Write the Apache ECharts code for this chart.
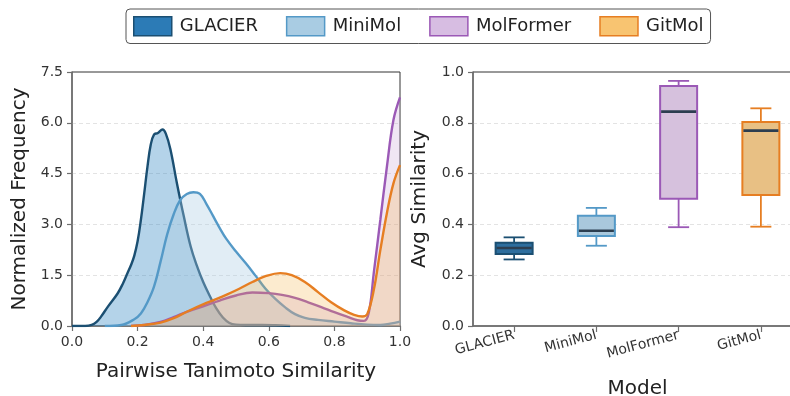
<!DOCTYPE html>
<html><head><meta charset="utf-8">
<script src="https://cdn.jsdelivr.net/npm/echarts@6/dist/echarts.min.js"></script>
<style>html,body{margin:0;padding:0;background:#fff}#c{width:790px;height:396px}</style>
</head><body><div id="c"></div>
<script>
// ---- data ----
const models = ['GLACIER', 'MiniMol', 'MolFormer', 'GitMol'];

const glacierX = [0.00,0.04,0.06,0.075,0.088,0.11,0.139,0.155,0.169,0.18,0.19,0.20,0.21,0.22,0.23,0.24,0.25,0.262,0.276,0.286,0.30,0.32,0.341,0.362,0.38,0.40,0.422,0.44,0.46,0.48,0.50,0.53,0.58,0.62,0.665];
const glacierY = [0.00,0.00,0.03,0.12,0.27,0.58,0.96,1.25,1.56,1.80,2.08,2.50,3.13,3.90,4.70,5.35,5.65,5.70,5.80,5.68,5.22,4.21,3.23,2.34,1.80,1.30,0.85,0.52,0.25,0.09,0.04,0.03,0.03,0.02,0.00];

const miniX = [0.10,0.15,0.19,0.21,0.23,0.25,0.27,0.29,0.31,0.33,0.35,0.37,0.39,0.41,0.43,0.45,0.47,0.50,0.53,0.56,0.59,0.62,0.65,0.68,0.71,0.75,0.80,0.85,0.90,0.94,0.97,1.00];
const miniY = [0.00,0.03,0.20,0.37,0.70,1.16,1.90,2.70,3.30,3.72,3.90,3.95,3.90,3.60,3.25,2.90,2.58,2.20,1.85,1.48,1.10,0.80,0.55,0.35,0.24,0.18,0.13,0.08,0.04,0.03,0.07,0.13];

const molfX = [0.18,0.22,0.27,0.31,0.35,0.40,0.45,0.50,0.55,0.60,0.64,0.68,0.72,0.76,0.80,0.84,0.87,0.89,0.905,0.92,0.94,0.96,0.98,1.00];
const molfY = [0.00,0.03,0.12,0.26,0.42,0.58,0.75,0.90,0.99,0.97,0.92,0.83,0.70,0.56,0.41,0.27,0.17,0.15,0.40,1.56,3.13,4.70,6.08,6.75];

const gitX = [0.18,0.22,0.27,0.31,0.35,0.41,0.47,0.51,0.55,0.59,0.635,0.67,0.71,0.75,0.79,0.83,0.86,0.885,0.90,0.92,0.94,0.96,0.98,1.00];
const gitY = [0.00,0.03,0.10,0.23,0.42,0.68,0.92,1.10,1.30,1.47,1.56,1.50,1.30,1.00,0.70,0.46,0.33,0.28,0.35,1.06,2.24,3.33,4.21,4.75];

const boxLow  = [0.262, 0.316, 0.389, 0.391];
const boxQ1   = [0.283, 0.354, 0.501, 0.516];
const boxMed  = [0.307, 0.375, 0.844, 0.769];
const boxQ3   = [0.328, 0.434, 0.945, 0.803];
const boxHigh = [0.349, 0.465, 0.965, 0.857];

// ---- styles ----
const FONT = 'DejaVu Sans';
const lineColors = ['#1b4f72', '#5499c7', '#9b59b6', '#e67e22'];
const areaColors = ['#2e86c1', '#a9cce3', '#c39bd3', '#f5b041'];
const areaOps = [0.36, 0.35, 0.25, 0.25];
const legendFill = ['#2c7bb6', '#a9cce3', '#d7bde2', '#f8c471'];
const boxFill = ['#2d6e9e', '#a9c8dc', '#d6c1dd', '#e8c084'];
const boxEdge = ['#1b4f72', '#5499c7', '#9b59b6', '#e67e22'];

const kdeX = [glacierX, miniX, molfX, gitX];
const kdeY = [glacierY, miniY, molfY, gitY];

const axisLineStyle = {color: '#6e6e6e', width: 1.5};
const tickStyle = {show: true, length: 5, lineStyle: {color: '#6e6e6e', width: 1.2}};
const labelStyle = {fontFamily: FONT, fontSize: 14, color: '#333'};
const splitStyle = {show: true, showMinLine: false, showMaxLine: false, lineStyle: {color: '#dcdcdc', type: [4, 3], width: 0.8}};

const chart = echarts.init(document.getElementById('c'), null, {renderer: 'canvas'});

const lineSeries = models.map((m, k) => ({
  name: m,
  type: 'line',
  xAxisIndex: 0, yAxisIndex: 0,
  data: kdeX[k].map((x, i) => [x, kdeY[k][i]]),
  smooth: 0.4,
  showSymbol: false,
  symbol: 'none',
  lineStyle: {color: lineColors[k], width: 2.4},
  itemStyle: {color: lineColors[k]},
  areaStyle: {color: areaColors[k], opacity: areaOps[k]},
  z: 2 + k
}));

const boxSeries = {
  type: 'custom',
  xAxisIndex: 1, yAxisIndex: 1,
  data: models.map((m, i) => [i, boxLow[i], boxQ1[i], boxMed[i], boxQ3[i], boxHigh[i]]),
  encode: {x: 0, y: [1, 2, 3, 4, 5]},
  renderItem: function (params, api) {
    const i = api.value(0);
    const x = api.coord([i, api.value(3)])[0];
    const yLow = api.coord([i, api.value(1)])[1];
    const yQ1 = api.coord([i, api.value(2)])[1];
    const yMed = api.coord([i, api.value(3)])[1];
    const yQ3 = api.coord([i, api.value(4)])[1];
    const yHigh = api.coord([i, api.value(5)])[1];
    const bw = 37, cw = 21;
    const edge = boxEdge[i], fill = boxFill[i];
    const ls = {stroke: edge, lineWidth: 1.8};
    return {type: 'group', children: [
      {type: 'line', shape: {x1: x, y1: yQ1, x2: x, y2: yLow}, style: ls},
      {type: 'line', shape: {x1: x, y1: yQ3, x2: x, y2: yHigh}, style: ls},
      {type: 'line', shape: {x1: x - cw / 2, y1: yLow, x2: x + cw / 2, y2: yLow}, style: ls},
      {type: 'line', shape: {x1: x - cw / 2, y1: yHigh, x2: x + cw / 2, y2: yHigh}, style: ls},
      {type: 'rect', shape: {x: x - bw / 2, y: yQ3, width: bw, height: yQ1 - yQ3}, style: {fill: fill, stroke: edge, lineWidth: 2}},
      {type: 'line', shape: {x1: x - bw / 2 + 1, y1: yMed, x2: x + bw / 2 - 1, y2: yMed}, style: {stroke: '#2c3e50', lineWidth: 2.6}}
    ]};
  },
  z: 5
};

const option = {
  animation: false,
  backgroundColor: '#ffffff',
  textStyle: {fontFamily: FONT},
  legend: {
    left: 126, top: 9,
    padding: [7, 7, 7, 7],
    itemWidth: 38, itemHeight: 19, itemGap: 28,
    borderColor: '#555', borderWidth: 1, borderRadius: 4,
    backgroundColor: '#fff',
    textStyle: {fontFamily: FONT, fontSize: 18, color: '#222', padding: [0, 0, 0, 3]},
    selectedMode: false,
    data: models.map((m, k) => ({
      name: m, icon: 'rect',
      itemStyle: {color: legendFill[k], borderColor: boxEdge[k], borderWidth: 1.5}
    }))
  },
  grid: [
    {left: 72, top: 72, width: 328, height: 254, outerBoundsMode: 'none', containLabel: false, show: true, borderColor: '#333', borderWidth: 1, backgroundColor: 'transparent'},
    {left: 473, top: 72, width: 329, height: 254, outerBoundsMode: 'none', containLabel: false, show: true, borderColor: '#333', borderWidth: 1, backgroundColor: 'transparent'}
  ],
  xAxis: [
    {
      type: 'value', gridIndex: 0, min: 0, max: 1, interval: 0.2,
      name: 'Pairwise Tanimoto Similarity', nameLocation: 'middle', nameGap: 36,
      nameTextStyle: {fontFamily: FONT, fontSize: 20, color: '#222'},
      axisLine: {show: true, lineStyle: axisLineStyle},
      axisTick: tickStyle,
      axisLabel: Object.assign({margin: 9, formatter: v => v.toFixed(1)}, labelStyle),
      splitLine: {show: false}
    },
    {
      type: 'category', gridIndex: 1, data: models, boundaryGap: true,
      name: 'Model', nameLocation: 'middle', nameGap: 53,
      nameTextStyle: {fontFamily: FONT, fontSize: 20, color: '#222'},
      axisLine: {show: true, lineStyle: axisLineStyle},
      axisTick: Object.assign({alignWithLabel: true}, tickStyle, {length: 6}),
      axisLabel: Object.assign({margin: 9, rotate: 15, interval: 0}, labelStyle),
      splitLine: {show: false}
    }
  ],
  yAxis: [
    {
      type: 'value', gridIndex: 0, min: 0, max: 7.5, interval: 1.5,
      name: 'Normalized Frequency', nameLocation: 'middle', nameGap: 42,
      nameTextStyle: {fontFamily: FONT, fontSize: 20, color: '#222'},
      axisLine: {show: true, lineStyle: axisLineStyle},
      axisTick: tickStyle,
      axisLabel: Object.assign({margin: 9, formatter: v => v.toFixed(1)}, labelStyle),
      splitLine: splitStyle
    },
    {
      type: 'value', gridIndex: 1, min: 0, max: 1, interval: 0.2,
      name: 'Avg Similarity', nameLocation: 'middle', nameGap: 43,
      nameTextStyle: {fontFamily: FONT, fontSize: 20, color: '#222'},
      axisLine: {show: true, lineStyle: axisLineStyle},
      axisTick: tickStyle,
      axisLabel: Object.assign({margin: 9, formatter: v => v.toFixed(1)}, labelStyle),
      splitLine: splitStyle
    }
  ],
  series: lineSeries.concat([boxSeries])
};
chart.setOption(option);
</script>
</body></html>
